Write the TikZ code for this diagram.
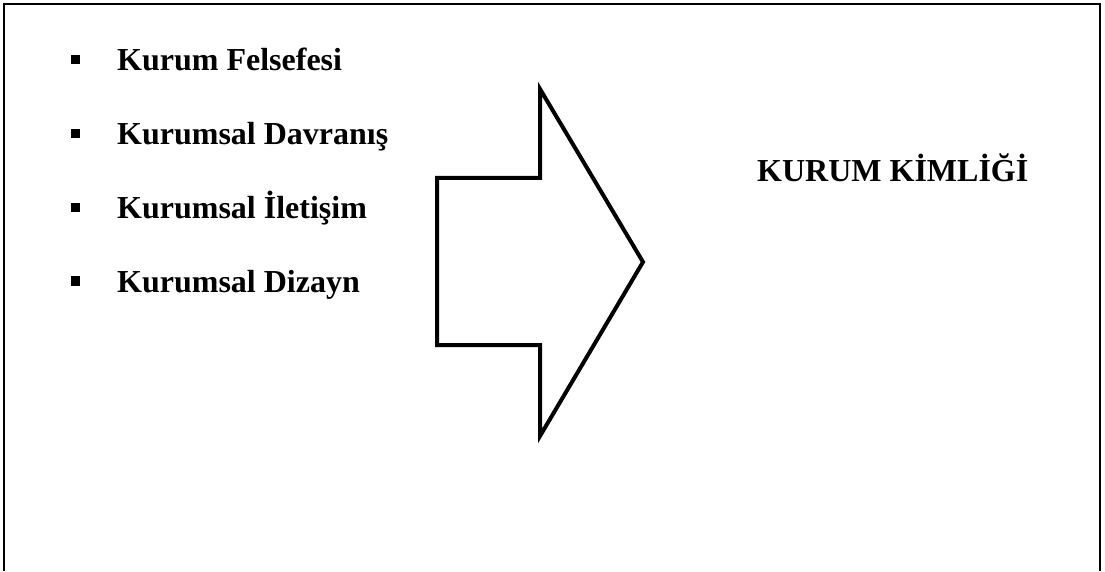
\documentclass[tikz,border=0pt]{standalone}
\usepackage{fontspec}
\setmainfont{Liberation Serif}
\begin{document}
\begin{tikzpicture}[x=1pt,y=1pt,
  itemtext/.style={anchor=base west,inner sep=0pt,font=\fontsize{32}{38}\selectfont\bfseries},
  bulletsq/.style={fill=black,minimum size=9pt,inner sep=0pt,outer sep=0pt},
  frameline/.style={line width=2.2pt},
  bigarrow/.style={line width=4pt,miter limit=10}]
\useasboundingbox (0,0) rectangle (1105,571);
\draw[frameline] (4,0) -- (4,567) -- (1100,567) -- (1100,0);
\node[bulletsq] (b1) at (75,511) {};
\node[bulletsq] (b2) at (75,437) {};
\node[bulletsq] (b3) at (75,363) {};
\node[bulletsq] (b4) at (75,290) {};
\node[itemtext] (t1) at (117,500) {Kurum Felsefesi};
\node[itemtext] (t2) at (117,426) {Kurumsal Davranış};
\node[itemtext] (t3) at (117,352) {Kurumsal İletişim};
\node[itemtext] (t4) at (117,279) {Kurumsal Dizayn};
\draw[bigarrow] (437,393) -- (540,393) -- (540,482) -- (643,309) -- (540,135) -- (540,226) -- (437,226) -- cycle;
\node[itemtext] (k) at (757,389) {KURUM KİMLİĞİ};
\end{tikzpicture}
\end{document}
